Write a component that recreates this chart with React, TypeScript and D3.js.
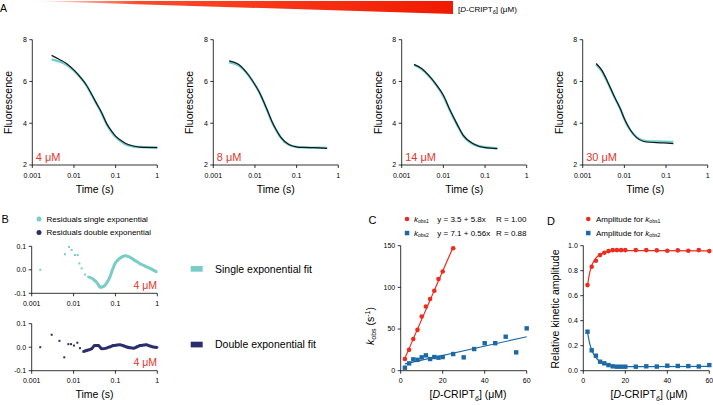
import React from "react";
import * as d3 from "d3";

const FONT = "'Liberation Sans', Arial, Helvetica, sans-serif";
const RED = "#ee2b1d";
const BLUE = "#1d69a4";
const TEAL = "#79cdc9";
const NAVY = "#2b2e6c";
const LABEL_RED = "#e3362b";

// ---------- Panel A data ----------
const concLabels = ["4 μM", "8 μM", "14 μM", "30 μM"];
const a1T = [0.0029, 0.0045, 0.0066, 0.01, 0.015, 0.02, 0.028, 0.035, 0.045, 0.061, 0.08, 0.1, 0.14, 0.18, 0.25, 0.38, 0.6, 1.0];
const a1D = [7.25, 7.05, 6.86, 6.54, 6.15, 5.82, 5.3, 4.94, 4.55, 3.98, 3.62, 3.38, 3.15, 3.02, 2.92, 2.86, 2.84, 2.83];
const a1F = [7.06, 6.95, 6.8, 6.52, 6.14, 5.8, 5.28, 4.92, 4.52, 3.95, 3.58, 3.34, 3.1, 2.98, 2.9, 2.86, 2.84, 2.84];
const a2T = [0.0024, 0.004, 0.007, 0.0101, 0.013, 0.0162, 0.02, 0.0257, 0.032, 0.041, 0.065, 0.103, 0.15, 0.26, 0.54];
const a2D = [6.99, 6.83, 6.31, 5.83, 5.45, 5.03, 4.6, 4.07, 3.7, 3.35, 2.98, 2.86, 2.84, 2.83, 2.8];
const a2F = [6.92, 6.78, 6.3, 5.82, 5.44, 5.02, 4.58, 4.05, 3.68, 3.33, 2.97, 2.86, 2.84, 2.83, 2.82];
const a3T = [0.00198, 0.003, 0.0048, 0.0069, 0.01, 0.0145, 0.021, 0.03, 0.052, 0.1, 0.198];
const a3D = [6.82, 6.62, 6.22, 5.82, 5.34, 4.62, 3.98, 3.42, 3.02, 2.83, 2.78];
const a3F = [6.78, 6.6, 6.2, 5.8, 5.3, 4.6, 3.96, 3.4, 3.0, 2.85, 2.8];
const a4T = [0.0021, 0.00286, 0.0041, 0.006, 0.0079, 0.0104, 0.0137, 0.0198, 0.0344, 0.086, 0.15];
const a4D = [6.86, 6.54, 5.92, 5.2, 4.72, 4.14, 3.7, 3.31, 3.1, 3.06, 3.02];
const a4F = [6.82, 6.5, 5.9, 5.18, 4.7, 4.12, 3.68, 3.32, 3.14, 3.12, 3.1];
const fluorTicks = [2, 4, 6, 8];
const timeTicks = [0.001, 0.01, 0.1, 1];
const timeTickLabels = ["0.001", "0.01", "0.1", "1"];

// ---------- Panel B data ----------
const resSingleT = [0.0016, 0.00625, 0.0078, 0.009, 0.0108, 0.0126, 0.0137, 0.0156, 0.0187, 0.0224, 0.0265, 0.0295, 0.034, 0.039, 0.043, 0.05, 0.056, 0.065, 0.074, 0.085, 0.098, 0.112, 0.128, 0.148, 0.17, 0.2, 0.245, 0.3, 0.38, 0.48, 0.61, 0.78, 0.96];
const resSingleV = [0.0, 0.066, 0.097, 0.084, 0.063, 0.063, 0.027, 0.006, -0.02, -0.03, -0.035, -0.04, -0.05, -0.063, -0.074, -0.072, -0.066, -0.05, -0.03, 0.0, 0.027, 0.04, 0.049, 0.056, 0.06, 0.057, 0.049, 0.038, 0.027, 0.018, 0.009, 0.0, -0.009];
const resDoubleT = [0.0016, 0.003, 0.0046, 0.006, 0.0075, 0.0087, 0.0102, 0.0123, 0.0142, 0.017, 0.0204, 0.027, 0.032, 0.039, 0.047, 0.061, 0.075, 0.089, 0.108, 0.128, 0.155, 0.186, 0.22, 0.27, 0.33, 0.39, 0.47, 0.55, 0.67, 0.8, 1.0];
const resDoubleV = [0.0, 0.053, 0.027, -0.043, 0.013, 0.013, 0.007, 0.019, -0.004, -0.019, -0.014, -0.007, 0.007, 0.007, -0.007, -0.004, 0.002, 0.007, 0.009, 0.01, 0.006, 0.001, -0.002, -0.004, 0.002, 0.007, 0.009, 0.01, 0.005, 0.001, -0.001];
const resTicks = [-0.1, 0.0, 0.1];
const resTickLabels = ["-0.1", "0.0", "0.1"];

// ---------- Panel C data ----------
const cX1 = [2, 4, 6, 8, 10, 12, 14, 16, 18, 20, 25];
const cY1 = [14, 25, 38, 49, 65, 77, 86, 96, 110, 119, 147];
const cX2 = [2, 4, 6, 8, 10, 12, 14, 16, 18, 20, 25, 30, 35, 40, 45, 50, 55, 60];
const cY2 = [3.6, 8.8, 13.6, 13, 16, 18.4, 14, 16.4, 15.6, 16.4, 20, 16, 26, 33, 33, 40.8, 22, 50.8];
const cFit1 = [3.5, 5.8]; // intercept, slope (from legend)
const cFit2 = [7.1, 0.56];
const cYTicks = [0, 50, 100, 150];
const concTicks = [0, 20, 40, 60];

// ---------- Panel D data ----------
const dX = [2, 4, 6, 8, 10, 12, 14, 16, 18, 20, 25, 30, 35, 40, 45, 50, 55, 60];
const dY1 = [0.685, 0.832, 0.88, 0.925, 0.944, 0.957, 0.965, 0.965, 0.965, 0.965, 0.965, 0.965, 0.963, 0.96, 0.963, 0.96, 0.965, 0.957];
const dY2 = [0.312, 0.163, 0.12, 0.072, 0.059, 0.045, 0.035, 0.032, 0.032, 0.032, 0.032, 0.035, 0.033, 0.04, 0.038, 0.037, 0.034, 0.045];
const dFitX = [2, 3, 4, 5, 6, 8, 10, 12, 15, 20, 30, 60];
const dFit1 = [0.68, 0.78, 0.84, 0.875, 0.9, 0.93, 0.945, 0.953, 0.958, 0.96, 0.96, 0.958];
const dFit2 = [0.31, 0.22, 0.165, 0.13, 0.105, 0.072, 0.055, 0.045, 0.037, 0.033, 0.033, 0.035];
const dYTicks = [0, 0.2, 0.4, 0.6, 0.8, 1.0];

const TICK_FS = 7;

function AxisLeft({ scale, x, ticks, labels }: any) {
  const [r0, r1] = scale.range();
  return (
    <g>
      <line x1={x} x2={x} y1={r0} y2={r1} stroke="#000" strokeWidth={0.8} />
      {ticks.map((t: number, i: number) => (
        <g key={i}>
          <line x1={x - 3} x2={x} y1={scale(t)} y2={scale(t)} stroke="#000" strokeWidth={0.8} />
          <text x={x - 5.5} y={scale(t)} dy="0.35em" textAnchor="end" fontSize={TICK_FS} fontFamily={FONT}>
            {labels[i]}
          </text>
        </g>
      ))}
    </g>
  );
}

function AxisBottom({ scale, y, ticks, labels }: any) {
  const [r0, r1] = scale.range();
  return (
    <g>
      <line x1={r0} x2={r1} y1={y} y2={y} stroke="#000" strokeWidth={0.8} />
      {ticks.map((t: number, i: number) => (
        <g key={i}>
          <line x1={scale(t)} x2={scale(t)} y1={y} y2={y + 3} stroke="#000" strokeWidth={0.8} />
          <text x={scale(t)} y={y + 12.5} textAnchor="middle" fontSize={TICK_FS} fontFamily={FONT}>
            {labels[i]}
          </text>
        </g>
      ))}
    </g>
  );
}

function ConcLabel({ x, y, anchor = "middle" }: any) {
  return (
    <text x={x} y={y} textAnchor={anchor} fontSize={10.5} fontFamily={FONT}>
      [<tspan fontStyle="italic">D</tspan>-CRIPT
      <tspan fontSize={7} dy={2.5} fontStyle="italic">6</tspan>
      <tspan dy={-2.5}>] (μM)</tspan>
    </text>
  );
}

function PanelA({ x0, T, D, F, label }: any) {
  const xs = d3.scaleLog().domain([0.001, 1]).range([x0, x0 + 125]);
  const ys = d3.scaleLinear().domain([2, 8]).range([165, 39.7]);
  const line = d3
    .line<number>()
    .x((_, i) => xs(T[i]))
    .y((v) => ys(v))
    .curve(d3.curveMonotoneX);
  return (
    <g>
      <path d={line(F) || ""} fill="none" stroke={TEAL} strokeWidth={2.4} />
      <path d={line(D) || ""} fill="none" stroke="#0d1a22" strokeWidth={1.2} />
      <AxisLeft scale={ys} x={x0} ticks={fluorTicks} labels={fluorTicks.map(String)} />
      <AxisBottom scale={xs} y={165} ticks={timeTicks} labels={timeTickLabels} />
      <text x={x0 + 3.5} y={161} fontSize={11} fill={LABEL_RED} fontFamily={FONT}>
        {label}
      </text>
      <text
        transform={`translate(${x0 - 20},102.4) rotate(-90)`}
        textAnchor="middle"
        fontSize={10.5}
        fontFamily={FONT}
      >
        Fluorescence
      </text>
      <text x={x0 + 62.5} y={193} textAnchor="middle" fontSize={10.5} fontFamily={FONT}>
        Time (s)
      </text>
    </g>
  );
}

function Residuals({ T, V, color, yTop, bandFrom }: any) {
  const xs = d3.scaleLog().domain([0.001, 1]).range([31.7, 157.3]);
  const ys = d3.scaleLinear().domain([-0.1, 0.1]).range([yTop + 47, yTop]);
  const idx = T.map((_: number, i: number) => i).filter((i: number) => T[i] >= bandFrom);
  const band = d3
    .line<number>()
    .x((i) => xs(T[i]))
    .y((i) => ys(V[i]))
    .curve(d3.curveMonotoneX);
  return (
    <g>
      <path d={band(idx) || ""} fill="none" stroke={color} strokeWidth={3} strokeLinejoin="round" />
      {T.map((t: number, i: number) => (
        <rect key={i} x={xs(t) - 1} y={ys(V[i]) - 1} width={2} height={2} fill={color} />
      ))}
      <AxisLeft scale={ys} x={31.7} ticks={resTicks} labels={resTickLabels} />
      <AxisBottom scale={xs} y={yTop + 47} ticks={timeTicks} labels={timeTickLabels} />
      <text x={157} y={yTop + 42.5} textAnchor="end" fontSize={10.5} fill={LABEL_RED} fontFamily={FONT}>
        4 μM
      </text>
    </g>
  );
}

export default function App() {
  // panel C scales
  const cx = d3.scaleLinear().domain([0, 60]).range([400.7, 526.7]);
  const cy = d3.scaleLinear().domain([0, 150]).range([370.7, 245.7]);
  const dx = d3.scaleLinear().domain([0, 60]).range([583.3, 709.3]);
  const dy = d3.scaleLinear().domain([0, 1]).range([370.7, 245.7]);
  const dLine = (vals: number[]) =>
    d3
      .line<number>()
      .x((_, i) => dx(dFitX[i]))
      .y((v) => dy(v))
      .curve(d3.curveMonotoneX)(vals) || "";

  const fitLine = (fit: number[], xa: number, xb: number) => (
    <line x1={cx(xa)} x2={cx(xb)} y1={cy(fit[0] + fit[1] * xa)} y2={cy(fit[0] + fit[1] * xb)} />
  );

  return (
    <svg
      width={713}
      height={405}
      style={{ position: "absolute", left: 0, top: 0, display: "block", background: "#fff" }}
      fontFamily={FONT}
    >
      <defs>
        <linearGradient id="wedge" x1="0" x2="1" y1="0" y2="0">
          <stop offset="0" stopColor="#fff3f0" />
          <stop offset="0.25" stopColor="#ff4a2a" />
          <stop offset="1" stopColor="#f01a00" />
        </linearGradient>
      </defs>
      <rect x={0} y={0} width={713} height={405} fill="#fff" />

      {/* header */}
      <text x={0} y={12} fontSize={10.5} fontFamily={FONT}>A</text>
      <polygon points="34,1 453,1 453,14" fill="url(#wedge)" />
      <text x={458} y={12} fontSize={8} fontFamily={FONT}>
        [<tspan fontStyle="italic">D</tspan>-CRIPT
        <tspan fontSize={5.5} dy={2} fontStyle="italic">6</tspan>
        <tspan dy={-2}>] (μM)</tspan>
      </text>

      <PanelA x0={32.3} T={a1T} D={a1D} F={a1F} label={concLabels[0]} />
      <PanelA x0={213.3} T={a2T} D={a2D} F={a2F} label={concLabels[1]} />
      <PanelA x0={401.7} T={a3T} D={a3D} F={a3F} label={concLabels[2]} />
      <PanelA x0={582.7} T={a4T} D={a4D} F={a4F} label={concLabels[3]} />

      {/* Panel B */}
      <text x={1.5} y={223} fontSize={11} fontFamily={FONT}>B</text>
      <circle cx={39} cy={219} r={2.5} fill={TEAL} />
      <text x={46.5} y={221.5} fontSize={8} fontFamily={FONT}>Residuals single exponential</text>
      <circle cx={39} cy={232.5} r={2.5} fill={NAVY} />
      <text x={46.5} y={235} fontSize={8} fontFamily={FONT}>Residuals double exponential</text>
      <Residuals T={resSingleT} V={resSingleV} color={TEAL} yTop={246.3} bandFrom={0.02} />
      <Residuals T={resDoubleT} V={resDoubleV} color={NAVY} yTop={323.7} bandFrom={0.017} />
      <text x={94.5} y={398} textAnchor="middle" fontSize={10.5} fontFamily={FONT}>Time (s)</text>

      <rect x={190.7} y={266} width={12} height={5.7} fill={TEAL} />
      <text x={215} y={272.7} fontSize={10.5} fontFamily={FONT}>Single exponential fit</text>
      <rect x={190.7} y={341.7} width={12} height={5.7} fill={NAVY} />
      <text x={215} y={348.3} fontSize={10.5} fontFamily={FONT}>Double exponential fit</text>

      {/* Panel C */}
      <text x={368.5} y={224} fontSize={11} fontFamily={FONT}>C</text>
      <circle cx={407} cy={219} r={2.3} fill={RED} />
      <text x={414} y={221.5} fontSize={8} fontFamily={FONT}>
        <tspan fontStyle="italic">k</tspan>
        <tspan fontSize={5} dy={1.5}>obs1</tspan>
      </text>
      <text x={437.3} y={221.5} fontSize={8} fontFamily={FONT}>y = 3.5 + 5.8x</text>
      <text x={496} y={221.5} fontSize={8} fontFamily={FONT}>R = 1.00</text>
      <rect x={404.8} y={230.8} width={4.5} height={4.5} fill={BLUE} />
      <text x={414} y={235.5} fontSize={8} fontFamily={FONT}>
        <tspan fontStyle="italic">k</tspan>
        <tspan fontSize={5} dy={1.5}>obs2</tspan>
      </text>
      <text x={437.3} y={235.5} fontSize={8} fontFamily={FONT}>y = 7.1 + 0.56x</text>
      <text x={496} y={235.5} fontSize={8} fontFamily={FONT}>R = 0.88</text>

      <g stroke={RED} strokeWidth={1.2}>{fitLine(cFit1, 2, 25)}</g>
      <g stroke={BLUE} strokeWidth={1.2}>{fitLine(cFit2, 2, 60)}</g>
      {cX1.map((x, i) => (
        <circle key={"c1" + i} cx={cx(x)} cy={cy(cY1[i])} r={2.3} fill={RED} />
      ))}
      {cX2.map((x, i) => (
        <rect key={"c2" + i} x={cx(x) - 2.2} y={cy(cY2[i]) - 2.2} width={4.4} height={4.4} fill={BLUE} />
      ))}
      <AxisLeft scale={cy} x={400.7} ticks={cYTicks} labels={cYTicks.map(String)} />
      <AxisBottom scale={cx} y={370.7} ticks={concTicks} labels={concTicks.map(String)} />
      <text transform="translate(374,326) rotate(-90)" textAnchor="middle" fontSize={10.5} fontFamily={FONT}>
        <tspan fontStyle="italic">k</tspan>
        <tspan fontSize={7} dy={2}>obs</tspan>
        <tspan dy={-2}> (s</tspan>
        <tspan fontSize={7} dy={-4}>-1</tspan>
        <tspan dy={4}>)</tspan>
      </text>
      <ConcLabel x={468} y={398} />

      {/* Panel D */}
      <text x={547} y={225} fontSize={11} fontFamily={FONT}>D</text>
      <circle cx={588.3} cy={219} r={2.3} fill={RED} />
      <text x={596} y={221.5} fontSize={8} fontFamily={FONT}>
        Amplitude for <tspan fontStyle="italic">k</tspan>
        <tspan fontSize={5} dy={1.5}>obs1</tspan>
      </text>
      <rect x={586} y={230.8} width={4.5} height={4.5} fill={BLUE} />
      <text x={596} y={235.5} fontSize={8} fontFamily={FONT}>
        Amplitude for <tspan fontStyle="italic">k</tspan>
        <tspan fontSize={5} dy={1.5}>obs2</tspan>
      </text>
      <path d={dLine(dFit1)} fill="none" stroke={RED} strokeWidth={1.2} />
      <path d={dLine(dFit2)} fill="none" stroke={BLUE} strokeWidth={1.2} />
      {dX.map((x, i) => (
        <circle key={"d1" + i} cx={dx(x)} cy={dy(dY1[i])} r={2.3} fill={RED} />
      ))}
      {dX.map((x, i) => (
        <rect key={"d2" + i} x={dx(x) - 2.2} y={dy(dY2[i]) - 2.2} width={4.4} height={4.4} fill={BLUE} />
      ))}
      <AxisLeft scale={dy} x={583.3} ticks={dYTicks} labels={dYTicks.map((v) => v.toFixed(1))} />
      <AxisBottom scale={dx} y={370.7} ticks={concTicks} labels={concTicks.map(String)} />
      <text transform="translate(558.5,309) rotate(-90)" textAnchor="middle" fontSize={10.5} fontFamily={FONT}>
        Relative kinetic amplitude
      </text>
      <ConcLabel x={649} y={398} />
    </svg>
  );
}
